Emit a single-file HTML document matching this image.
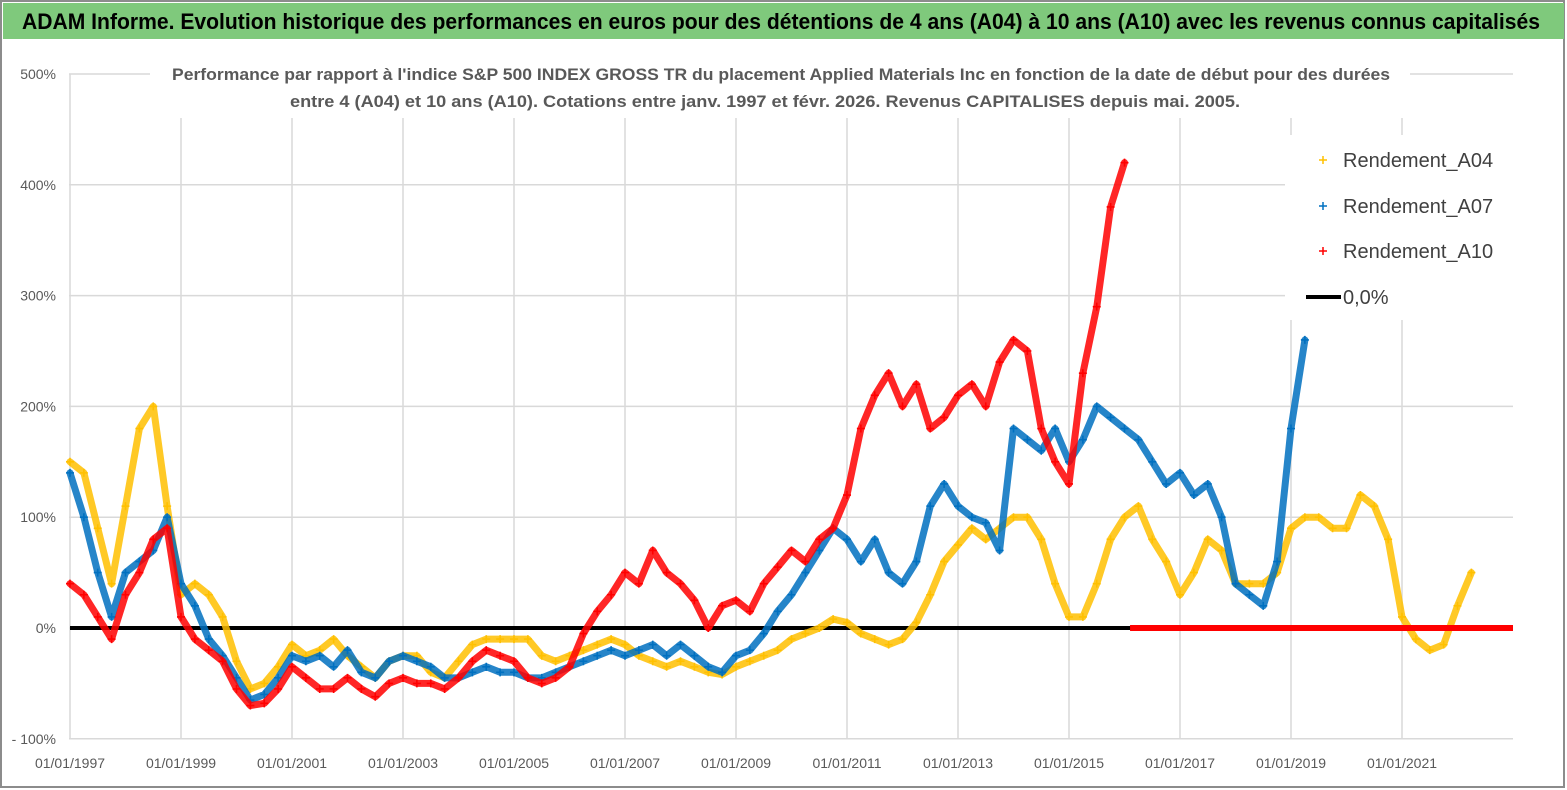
<!DOCTYPE html>
<html><head><meta charset="utf-8"><style>
html,body{margin:0;padding:0;background:#fff;}
svg{display:block;font-family:"Liberation Sans Narrow","Liberation Sans",sans-serif;}
</style></head><body>
<svg id="chart" width="1567" height="790" viewBox="0 0 1567 790" xmlns="http://www.w3.org/2000/svg">
<rect x="0" y="0" width="1567" height="790" fill="#fff"/>
<rect x="1" y="1" width="1563" height="786" fill="none" stroke="#8c8c8c" stroke-width="2"/>
<rect x="3" y="3" width="1561" height="36" fill="#7fc97c"/>
<text x="22" y="29" font-size="22" font-weight="bold" fill="#000" textLength="1518" lengthAdjust="spacingAndGlyphs">ADAM Informe. Evolution historique des performances en euros pour des détentions de 4 ans (A04) à 10 ans (A10) avec les revenus connus capitalisés</text>
<g id="grid"></g>
<g id="axes"></g>
<g id="series"></g>
<rect x="150" y="60" width="1260" height="58" fill="#fff"/>
<text x="172" y="80" font-size="17" font-weight="bold" fill="#595959" textLength="1218" lengthAdjust="spacingAndGlyphs">Performance par rapport à l'indice S&amp;P 500 INDEX GROSS TR  du placement Applied Materials Inc en fonction de la date de début pour des durées</text>
<text x="290" y="107" font-size="17" font-weight="bold" fill="#595959" textLength="950" lengthAdjust="spacingAndGlyphs">entre 4 (A04) et 10 ans (A10). Cotations entre janv. 1997 et févr. 2026. Revenus CAPITALISES depuis mai. 2005.</text>
<g>
<rect x="1285" y="135" width="228" height="185" fill="#fff"/>
<g><path d="M1319 160h8M1323 156v8" stroke="#ffc000" stroke-width="1.5"/><text x="1343" y="167" font-size="20" fill="#404040">Rendement_A04</text></g>
<g><path d="M1319 206h8M1323 202v8" stroke="#0070c0" stroke-width="1.5"/><text x="1343" y="213" font-size="20" fill="#404040">Rendement_A07</text></g>
<g><path d="M1319 251h8M1323 247v8" stroke="#ff0000" stroke-width="1.5"/><text x="1343" y="258" font-size="20" fill="#404040">Rendement_A10</text></g>
<g><path d="M1306 297h35" stroke="#000" stroke-width="4"/><text x="1343" y="304" font-size="20" fill="#404040">0,0%</text></g>
</g>
</svg>
<script>
const yTicks = [-100, 0, 100, 200, 300, 400, 500];
const yTickLabels = ["- 100%", "0%", "100%", "200%", "300%", "400%", "500%"];
const xTickYears = [1997, 1999, 2001, 2003, 2005, 2007, 2009, 2011, 2013, 2015, 2017, 2019, 2021];
const xTickLabels = ["01/01/1997","01/01/1999","01/01/2001","01/01/2003","01/01/2005","01/01/2007","01/01/2009","01/01/2011","01/01/2013","01/01/2015","01/01/2017","01/01/2019","01/01/2021"];
const startYear = 1997;
const stepYears = 0.25;
const rendementA04 = [150,140,90,40, 110,180,200,110, 30,40,30,10, -30,-55,-50,-35, -15,-25,-20,-10, -25,-35,-45,-30, -25,-25,-40,-45, -30,-15,-10,-10, -10,-10,-25,-30, -25,-20,-15,-10, -15,-25,-30,-35, -30,-35,-40,-42, -35,-30,-25,-20, -10,-5,0,8, 5,-5,-10,-15, -10,5,30,60, 75,90,80,90, 100,100,80,40, 10,10,40,80, 100,110,80,60, 30,50,80,70, 40,40,40,50, 90,100,100,90, 90,120,110,80, 10,-10,-20,-15, 20,50];
const rendementA07 = [140,100,50,10, 50,60,70,100, 40,20,-10,-25, -45,-65,-60,-45, -25,-30,-25,-35, -20,-40,-45,-30, -25,-30,-35,-45, -45,-40,-35,-40, -40,-45,-45,-40, -35,-30,-25,-20, -25,-20,-15,-25, -15,-25,-35,-40, -25,-20,-5,15, 30,50,70,90, 80,60,80,50, 40,60,110,130, 110,100,95,70, 180,170,160,180, 150,170,200,190, 180,170,150,130, 140,120,130,100, 40,30,20,60, 180,260];
const rendementA10 = [40,30,10,-10, 30,50,80,90, 10,-10,-20,-30, -55,-70,-68,-55, -35,-45,-55,-55, -45,-55,-62,-50, -45,-50,-50,-55, -45,-30,-20,-25, -30,-45,-50,-45, -35,-5,15,30, 50,40,70,50, 40,25,0,20, 25,15,40,55, 70,60,80,90, 120,180,210,230, 200,220,180,190, 210,220,200,240, 260,250,180,150, 130,230,290,380, 420];
// A10 reported as 0 once the 10-year window is no longer available
const a10ZeroTail = [2016.1, 2023.0];

const X0 = 70, PXY = 55.5, Y0 = 628, PXV = 1.108, XEND = 1513;
const xs = yr => X0 + (yr - startYear) * PXY;
const ys = v => Y0 - v * PXV;
const NS = "http://www.w3.org/2000/svg";
function mk(tag, attrs, parent){const e=document.createElementNS(NS,tag);for(const k in attrs)e.setAttribute(k,attrs[k]);parent.appendChild(e);return e;}

const grid = document.getElementById('grid');
const axes = document.getElementById('axes');
yTicks.forEach((t,i)=>{
  const l = mk('line',{x1:X0-1,x2:XEND,y1:ys(t),y2:ys(t),stroke:'#d9d9d9','stroke-width':1.5},grid);
  
  
  const tx = mk('text',{x:56,y:ys(t)+5,'text-anchor':'end','font-size':14,fill:'#595959'},axes);
  tx.textContent = yTickLabels[i];
  
  
});
xTickYears.forEach((yr,i)=>{
  const l = mk('line',{x1:xs(yr),x2:xs(yr),y1:ys(500),y2:ys(-100),stroke:'#d9d9d9','stroke-width':1.5},grid);
  
  
  const tx = mk('text',{x:xs(yr),y:768,'text-anchor':'middle','font-size':14,fill:'#595959'},axes);
  tx.textContent = xTickLabels[i];
  
  
});

const series = document.getElementById('series');
const zl = mk('line',{x1:X0,x2:XEND,y1:ys(0),y2:ys(0),stroke:'#000','stroke-width':4},series);



function drawSeries(arr,color,name){
  const g = mk('g',{},series);
  
  
  const pts = arr.map((v,i)=>xs(startYear+i*stepYears).toFixed(1)+','+ys(v).toFixed(1)).join(' ');
  const pl = mk('polyline',{points:pts,fill:'none',stroke:color,'stroke-width':7,'stroke-linejoin':'round','stroke-linecap':'round',opacity:0.85},g);
  
  
  arr.forEach((v,i)=>{
    const x = xs(startYear+i*stepYears), y = ys(v);
    const p = mk('path',{d:`M${x-4} ${y}h8M${x} ${y-4}v8`,stroke:color,'stroke-width':1.6},g);
    
    
  });
  return g;
}
drawSeries(rendementA04,'#ffc000','series-a04');
drawSeries(rendementA07,'#0070c0','series-a07');
const gA10 = drawSeries(rendementA10,'#ff0000','series-a10');
const tail = mk('line',{x1:xs(a10ZeroTail[0]),x2:xs(a10ZeroTail[1]),y1:ys(0),y2:ys(0),stroke:'#ff0000','stroke-width':6},gA10);


</script>
</body></html>
